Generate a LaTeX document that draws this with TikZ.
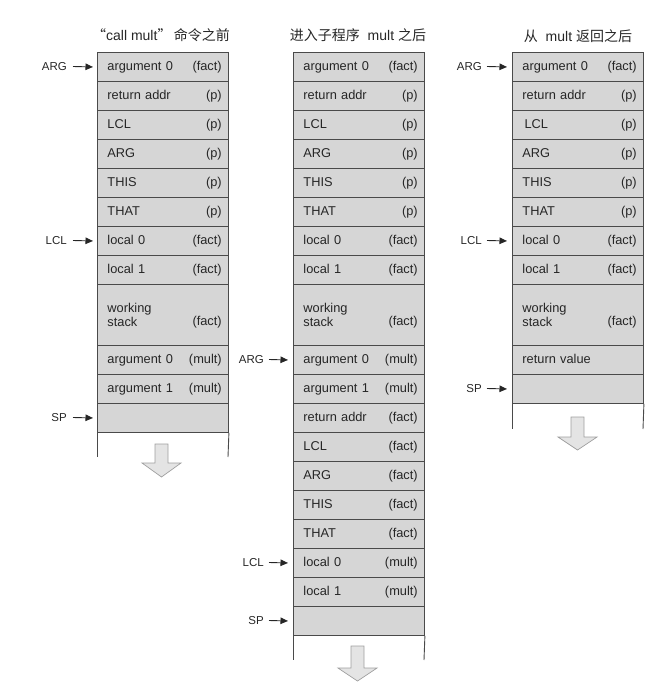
\documentclass[tikz,border=0pt]{standalone}
\usepackage{fontspec}
\setmainfont{Liberation Sans}
\newfontfamily\cjk{Noto Sans CJK SC}
\usetikzlibrary{arrows.meta}
\definecolor{cellfill}{HTML}{D6D6D6}
\definecolor{edge}{HTML}{4A4A4A}
\definecolor{ink}{HTML}{262626}
\definecolor{arrfill}{HTML}{E4E4E4}
\newcommand\cellstrut{\rule[-2.5pt]{0pt}{12.5pt}}
\begin{document}
\begin{tikzpicture}[x=1pt,y=-1pt,
  cell/.style={draw=edge,fill=cellfill,line width=0.9pt,anchor=north west,
    minimum width=131pt,minimum height=29pt,text width=111pt,inner xsep=10pt,inner ysep=0pt,
    align=left,text=ink,font=\fontsize{12.8}{14}\selectfont,execute at begin node=\cellstrut},
  tall/.style={cell,minimum height=61pt},
  rt/.style={anchor=east,inner sep=0pt,xshift=-7pt,text=ink,font=\fontsize{12.8}{14}\selectfont,
    execute at begin node=\cellstrut},
  rtlow/.style={rt,yshift=-7pt},
  lbl/.style={anchor=east,inner sep=0pt,text=ink,font=\fontsize{11.5}{13}\selectfont},
  ptr/.style={draw=ink,line width=0.9pt,-{Triangle[length=7.5pt,width=6.5pt]}},
  side/.style={draw=edge,line width=0.9pt},
  blockarrow/.style={draw=gray!75,fill=arrfill,line width=0.7pt,line join=miter},
  title/.style={anchor=center,inner sep=0pt,text=ink,font=\fontsize{14}{16}\selectfont}
]
\useasboundingbox (0,0) rectangle (667,694);

% ---------- titles
\node[title] (t1) at (161,35) {{\cjk “}call mult{\cjk ”}\,{\cjk 命令之前}};
\node[title] (t2) at (358,35) {{\cjk 进入子程序}\ \ mult\ {\cjk 之后}};
\node[title] (t3) at (578,36) {{\cjk 从}\ \ mult\ {\cjk 返回之后}};

% ---------- column 1
\begin{scope}
\node[cell,label={[rt]east:(fact)}] (a1) at (97,52) {argument 0};
\node[cell,label={[rt]east:(p)}] (a2) at (97,81) {return addr};
\node[cell,label={[rt]east:(p)}] (a3) at (97,110) {LCL};
\node[cell,label={[rt]east:(p)}] (a4) at (97,139) {ARG};
\node[cell,label={[rt]east:(p)}] (a5) at (97,168) {THIS};
\node[cell,label={[rt]east:(p)}] (a6) at (97,197) {THAT};
\node[cell,label={[rt]east:(fact)}] (a7) at (97,226) {local 0};
\node[cell,label={[rt]east:(fact)}] (a8) at (97,255) {local 1};
\node[tall,label={[rtlow]east:(fact)}] (a9) at (97,284) {working\\stack};
\node[cell,label={[rt]east:(mult)}] (a10) at (97,345) {argument 0};
\node[cell,label={[rt]east:(mult)}] (a11) at (97,374) {argument 1};
\node[cell] (a12) at (97,403) {};
\coordinate (a1bl) at (97,457);
\coordinate (a1br) at (228,457);
\draw[side] (a12.south west) -- (a1bl);
\draw[side] (a12.south east) -- (a1br);
\node[lbl] (la1) at (67,66.5) {ARG};
\node[lbl] (la7) at (67,240.5) {LCL};
\node[lbl] (la12) at (67,417.5) {SP};
\draw[ptr] ([xshift=6pt]la1.east) -- ([xshift=-4pt]a1.west);
\draw[ptr] ([xshift=6pt]la7.east) -- ([xshift=-4pt]a7.west);
\draw[ptr] ([xshift=6pt]la12.east) -- ([xshift=-4pt]a12.west);
\draw[blockarrow] (155,444) -- (168,444) -- (168,463) -- (181,463) -- (161.5,477)
  -- (142,463) -- (155,463) -- cycle;
\end{scope}

% ---------- column 2
\begin{scope}
\node[cell,label={[rt]east:(fact)}] (b1) at (293,52) {argument 0};
\node[cell,label={[rt]east:(p)}] (b2) at (293,81) {return addr};
\node[cell,label={[rt]east:(p)}] (b3) at (293,110) {LCL};
\node[cell,label={[rt]east:(p)}] (b4) at (293,139) {ARG};
\node[cell,label={[rt]east:(p)}] (b5) at (293,168) {THIS};
\node[cell,label={[rt]east:(p)}] (b6) at (293,197) {THAT};
\node[cell,label={[rt]east:(fact)}] (b7) at (293,226) {local 0};
\node[cell,label={[rt]east:(fact)}] (b8) at (293,255) {local 1};
\node[tall,label={[rtlow]east:(fact)}] (b9) at (293,284) {working\\stack};
\node[cell,label={[rt]east:(mult)}] (b10) at (293,345) {argument 0};
\node[cell,label={[rt]east:(mult)}] (b11) at (293,374) {argument 1};
\node[cell,label={[rt]east:(fact)}] (b12) at (293,403) {return addr};
\node[cell,label={[rt]east:(fact)}] (b13) at (293,432) {LCL};
\node[cell,label={[rt]east:(fact)}] (b14) at (293,461) {ARG};
\node[cell,label={[rt]east:(fact)}] (b15) at (293,490) {THIS};
\node[cell,label={[rt]east:(fact)}] (b16) at (293,519) {THAT};
\node[cell,label={[rt]east:(mult)}] (b17) at (293,548) {local 0};
\node[cell,label={[rt]east:(mult)}] (b18) at (293,577) {local 1};
\node[cell] (b19) at (293,606) {};
\coordinate (b1bl) at (293,660);
\coordinate (b1br) at (424,660);
\draw[side] (b19.south west) -- (b1bl);
\draw[side] (b19.south east) -- (b1br);
\node[lbl] (lb10) at (264,359.5) {ARG};
\node[lbl] (lb17) at (264,562.5) {LCL};
\node[lbl] (lb19) at (264,620.5) {SP};
\draw[ptr] ([xshift=5pt]lb10.east) -- ([xshift=-5pt]b10.west);
\draw[ptr] ([xshift=5pt]lb17.east) -- ([xshift=-5pt]b17.west);
\draw[ptr] ([xshift=5pt]lb19.east) -- ([xshift=-5pt]b19.west);
\draw[blockarrow] (351,646) -- (364,646) -- (364,668) -- (377,668) -- (357.5,681)
  -- (338,668) -- (351,668) -- cycle;
\end{scope}

% ---------- column 3
\begin{scope}
\node[cell,label={[rt]east:(fact)}] (c1) at (512,52) {argument 0};
\node[cell,label={[rt]east:(p)}] (c2) at (512,81) {return addr};
\node[cell,label={[rt]east:(p)}] (c3) at (512,110) {\,LCL};
\node[cell,label={[rt]east:(p)}] (c4) at (512,139) {ARG};
\node[cell,label={[rt]east:(p)}] (c5) at (512,168) {THIS};
\node[cell,label={[rt]east:(p)}] (c6) at (512,197) {THAT};
\node[cell,label={[rt]east:(fact)}] (c7) at (512,226) {local 0};
\node[cell,label={[rt]east:(fact)}] (c8) at (512,255) {local 1};
\node[tall,label={[rtlow]east:(fact)}] (c9) at (512,284) {working\\stack};
\node[cell] (c10) at (512,345) {return value};
\node[cell] (c11) at (512,374) {};
\coordinate (c1bl) at (512,429);
\coordinate (c1br) at (643,429);
\draw[side] (c11.south west) -- (c1bl);
\draw[side] (c11.south east) -- (c1br);
\node[lbl] (lc1) at (482,66.5) {ARG};
\node[lbl] (lc7) at (482,240.5) {LCL};
\node[lbl] (lc11) at (482,388.5) {SP};
\draw[ptr] ([xshift=5pt]lc1.east) -- ([xshift=-5pt]c1.west);
\draw[ptr] ([xshift=5pt]lc7.east) -- ([xshift=-5pt]c7.west);
\draw[ptr] ([xshift=5pt]lc11.east) -- ([xshift=-5pt]c11.west);
\draw[blockarrow] (571,417) -- (584,417) -- (584,437) -- (597,437) -- (577.5,450)
  -- (558,437) -- (571,437) -- cycle;
\end{scope}
\end{tikzpicture}
\end{document}
